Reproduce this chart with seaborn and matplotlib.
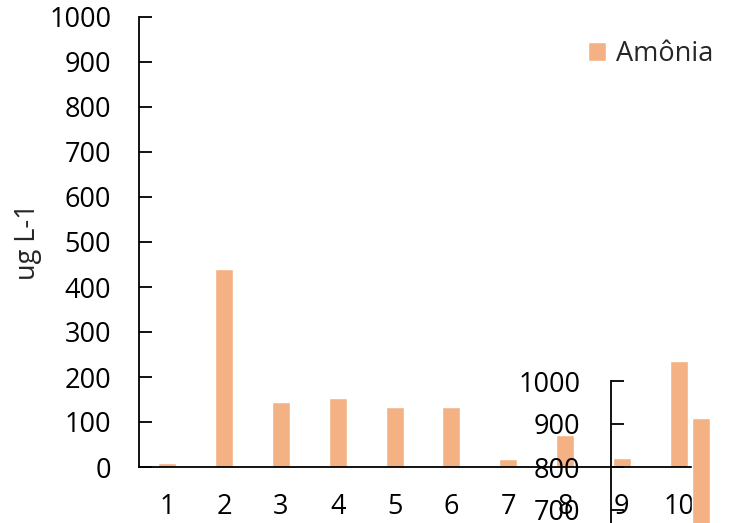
# gráfico de barras - Amônia (ug L-1)
import numpy as np
import pandas as pd
import seaborn as sns
import matplotlib.pyplot as plt

pontos = ['1', '2', '3', '4', '5', '6', '7', '8', '9', '10']
amonia = [9, 440, 145, 153, 133, 133, 18, 72, 20, 235]
# valor fora da escala, desenhado no eixo menor
ponto_extra = ['10']
amonia_extra = [914]
yticks_main = np.arange(0, 1001, 100)
yticks_extra = np.arange(0, 1001, 100)

cor = '#F4B183'
fs = 19.5

sns.set_theme(style='white')
plt.rcParams['font.family'] = ['Open Sans', 'DejaVu Sans']

fig = plt.figure(figsize=(7.54, 5.23), dpi=100)
W, H = 754, 523

# eixo principal
ax = fig.add_axes([139 / W, (H - 467) / H, (707 - 139) / W, (467 - 17) / H])
df = pd.DataFrame({'ponto': pontos, 'amonia': amonia})
sns.barplot(data=df, x='ponto', y='amonia', color=cor, saturation=1,
            width=0.32, ax=ax, label='Amônia')
ax.set_ylim(0, 1000)
ax.set_xlim(-0.5, 9.5)
ax.set_yticks(yticks_main)
ax.set_xlabel('')
ax.set_ylabel('ug L-1', fontsize=fs, labelpad=5)
for s in ['top', 'right']:
    ax.spines[s].set_visible(False)
for s in ['left', 'bottom']:
    ax.spines[s].set_color('black')
    ax.spines[s].set_linewidth(1.3)
ax.tick_params(axis='y', direction='in', length=9, width=1.3, pad=20,
               labelsize=fs, left=True, colors='black')
ax.tick_params(axis='x', length=0, pad=19, labelsize=fs, colors='black')
ax.legend(loc='upper left', bbox_to_anchor=(588 / W, (H - 40) / H),
          bbox_transform=fig.transFigure, frameon=False, fontsize=fs,
          handlelength=0.65, handleheight=0.65, handletextpad=0.4,
          borderpad=0, borderaxespad=0)

# eixo menor (sobreposto)
ax2 = fig.add_axes([611 / W, (H - 811) / H, (W - 611) / W, 430 / H])
ax2.patch.set_alpha(0)
df2 = pd.DataFrame({'ponto': ponto_extra, 'amonia': amonia_extra})
sns.barplot(data=df2, x='ponto', y='amonia', color=cor, saturation=1,
            width=0.333, ax=ax2)
ax2.set_xlim(-90 / 57, 53 / 57)
ax2.set_ylim(0, 1000)
ax2.set_yticks(yticks_extra)
ax2.set_xticks([])
ax2.set_xlabel('')
ax2.set_ylabel('')
for s in ['top', 'right', 'bottom']:
    ax2.spines[s].set_visible(False)
ax2.spines['left'].set_color('black')
ax2.spines['left'].set_linewidth(1.3)
ax2.tick_params(axis='y', direction='in', length=9, width=1.3, pad=22,
                labelsize=fs, left=True, colors='black')

fig.savefig('out.png', dpi=100)
